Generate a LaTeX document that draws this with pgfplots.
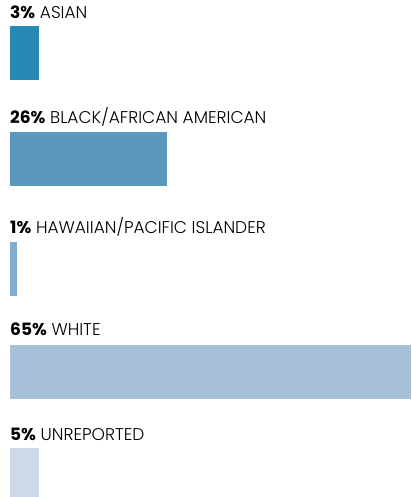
\documentclass[border=0pt]{standalone}
\usepackage{fontspec}
\setmainfont{Poppins}[UprightFont={* Light},BoldFont={* Bold}]
\usepackage{pgfplots}
\pgfplotsset{compat=1.18}
\definecolor{c1}{HTML}{2889B4}
\definecolor{c2}{HTML}{5A98BD}
\definecolor{c3}{HTML}{80AECC}
\definecolor{c4}{HTML}{A6C1D7}
\definecolor{c5}{HTML}{CBDAE6}
\begin{document}
\begin{tikzpicture}[x=1bp,y=1bp]
\useasboundingbox (0,0) rectangle (411,497);
\begin{axis}[at={(10bp,0bp)}, anchor=south west, scale only axis,
  width=401bp, height=497bp, xmin=0, xmax=65, ymin=0, ymax=497,
  y dir=reverse, hide axis, xbar, bar width=54, /pgf/bar shift=0pt,
  clip=false]
\addplot[fill=c1, draw=none] coordinates {(4.7,53)};
\addplot[fill=c2, draw=none] coordinates {(25.4,159)};
\addplot[fill=c3, draw=none] coordinates {(1.13,269)};
\addplot[fill=c4, draw=none] coordinates {(65,371.5)};
\addplot[fill=c5, draw=none] coordinates {(4.7,475)};
\begin{scope}[every node/.style={anchor=base west, inner sep=0pt, font=\fontsize{17bp}{20bp}\selectfont}]
\node at (axis cs:0,19) {\textbf{3\%} ASIAN};
\node at (axis cs:0,124) {\textbf{26\%} BLACK/AFRICAN AMERICAN};
\node at (axis cs:0,234) {\textbf{1\%} HAWAIIAN/PACIFIC ISLANDER};
\node at (axis cs:0,335) {\textbf{65\%} WHITE};
\node at (axis cs:0,440) {\textbf{5\%} UNREPORTED};
\end{scope}
\end{axis}
\end{tikzpicture}
\end{document}
